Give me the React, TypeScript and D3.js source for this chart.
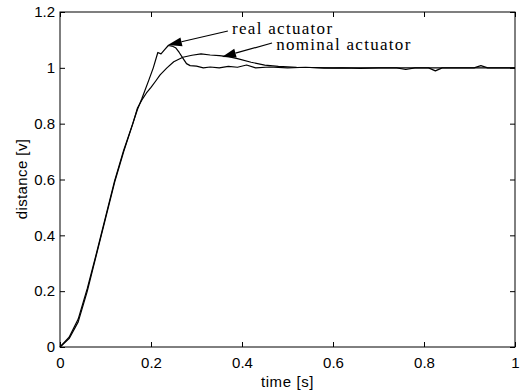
import React, { useRef, useEffect } from "react";
import * as d3 from "d3";

// step response: [time s, distance]
const realActuator: [number, number][] = [
  [0, 0], [0.02, 0.03], [0.04, 0.09], [0.06, 0.2], [0.08, 0.33],
  [0.1, 0.46], [0.12, 0.59], [0.14, 0.7], [0.16, 0.8], [0.17, 0.85],
  [0.18, 0.89], [0.195, 0.955], [0.205, 1.0], [0.215, 1.055], [0.222, 1.05],
  [0.23, 1.065], [0.238, 1.08], [0.246, 1.078], [0.254, 1.072], [0.262, 1.055],
  [0.27, 1.035], [0.278, 1.015], [0.286, 1.008], [0.3, 1.006], [0.315, 1.0],
  [0.33, 1.003], [0.35, 1.0], [0.37, 1.005], [0.39, 1.002], [0.41, 1.01],
  [0.43, 1.0], [0.46, 1.003], [0.5, 1.0], [0.54, 1.002], [0.58, 0.999],
  [0.62, 1.0], [0.66, 0.998], [0.7, 1.0], [0.74, 1.0], [0.76, 0.994],
  [0.78, 1.0], [0.81, 1.0], [0.825, 0.989], [0.84, 1.0], [0.88, 1.0],
  [0.91, 1.0], [0.925, 1.008], [0.94, 1.0], [0.97, 1.0], [1.0, 1.0],
];

const nominalActuator: [number, number][] = [
  [0, 0], [0.02, 0.035], [0.04, 0.1], [0.06, 0.21], [0.08, 0.335],
  [0.1, 0.465], [0.12, 0.595], [0.14, 0.705], [0.16, 0.8], [0.17, 0.855],
  [0.18, 0.885], [0.19, 0.91], [0.2, 0.93], [0.21, 0.952], [0.22, 0.975],
  [0.235, 1.0], [0.25, 1.022], [0.27, 1.038], [0.29, 1.045], [0.31, 1.05],
  [0.33, 1.046], [0.35, 1.044], [0.37, 1.04], [0.39, 1.033], [0.42, 1.02],
  [0.45, 1.01], [0.48, 1.005], [0.52, 1.002], [0.6, 1.0], [0.8, 1.0], [1.0, 1.0],
];

const xTicks = [0, 0.2, 0.4, 0.6, 0.8, 1];
const yTicks = [0, 0.2, 0.4, 0.6, 0.8, 1, 1.2];

// annotation: label, text anchor, arrow tail, arrow tip (all in data units)
const annotations = [
  { label: "real actuator", text: [0.378, 1.121], tail: [0.369, 1.132], tip: [0.237, 1.082] },
  { label: "nominal actuator", text: [0.475, 1.064], tail: [0.466, 1.089], tip: [0.356, 1.039] },
];

const App = () => {
  const svgRef = useRef<SVGSVGElement>(null);

  useEffect(() => {
    const width = 524;
    const height = 391;
    const margin = { top: 12, right: 9, bottom: 44, left: 60 };
    const w = width - margin.left - margin.right;
    const h = height - margin.top - margin.bottom;

    const svg = d3.select(svgRef.current);
    svg.selectAll("*").remove();

    const g = svg.append("g").attr("transform", `translate(${margin.left},${margin.top})`);

    const x = d3.scaleLinear().domain([0, 1]).range([0, w]);
    const y = d3.scaleLinear().domain([0, 1.2]).range([h, 0]);

    const fmt = (d: number) => (d === 0 || d === 1 ? String(d) : d.toFixed(1));
    const tickFont = "'Liberation Sans', Arial, sans-serif";

    // frame
    g.append("rect").attr("width", w).attr("height", h)
      .attr("fill", "none").attr("stroke", "#000").attr("stroke-width", 1);

    /*** axes, ticks pointing inward like matlab ***/
    const bottom = g.append("g").attr("transform", `translate(0,${h})`)
      .call(d3.axisBottom(x).tickValues(xTicks).tickSize(-5).tickPadding(10).tickFormat(fmt as any));
    const left = g.append("g")
      .call(d3.axisLeft(y).tickValues(yTicks).tickSize(-5).tickPadding(5).tickFormat(fmt as any));
    const top = g.append("g")
      .call(d3.axisTop(x).tickValues(xTicks).tickSize(-5).tickFormat(() => ""));
    const right = g.append("g").attr("transform", `translate(${w},0)`)
      .call(d3.axisRight(y).tickValues(yTicks).tickSize(-5).tickFormat(() => ""));

    [bottom, left, top, right].forEach((a) => {
      a.select(".domain").remove();
      a.selectAll("line").attr("stroke", "#000");
      a.selectAll("text")
        .attr("fill", "#000")
        .style("font-family", tickFont)
        .style("font-size", "15px");
    });

    g.append("text")
      .attr("x", w / 2)
      .attr("y", h + 40)
      .attr("text-anchor", "middle")
      .style("font-family", tickFont)
      .style("font-size", "15px")
      .style("letter-spacing", "0.6px")
      .text("time [s]");

    g.append("text")
      .attr("transform", `translate(${-33},${167}) rotate(-90)`)
      .attr("text-anchor", "middle")
      .style("font-family", tickFont)
      .style("font-size", "15px")
      .style("letter-spacing", "0.4px")
      .text("distance [v]");

    /*** curves ***/
    const line = d3.line<[number, number]>().x((d) => x(d[0])).y((d) => y(d[1]));

    [nominalActuator, realActuator].forEach((series) => {
      g.append("path")
        .datum(series)
        .attr("d", line)
        .attr("fill", "none")
        .attr("stroke", "#000")
        .attr("stroke-width", 1.2)
        .attr("stroke-linejoin", "round");
    });

    /*** arrows + labels ***/
    annotations.forEach((a) => {
      const tx = x(a.tail[0]), ty = y(a.tail[1]);
      const px = x(a.tip[0]), py = y(a.tip[1]);
      const len = Math.hypot(px - tx, py - ty);
      const ux = (px - tx) / len, uy = (py - ty) / len;
      const headLen = 14, headHalf = 4.5;
      const bx = px - ux * headLen, by = py - uy * headLen;

      g.append("line")
        .attr("x1", tx).attr("y1", ty).attr("x2", bx).attr("y2", by)
        .attr("stroke", "#000").attr("stroke-width", 1.2);

      g.append("polygon")
        .attr("points", [
          [px, py],
          [bx - uy * headHalf, by + ux * headHalf],
          [bx + uy * headHalf, by - ux * headHalf],
        ].map((p) => p.join(",")).join(" "))
        .attr("fill", "#000");

      g.append("text")
        .attr("x", x(a.text[0]))
        .attr("y", y(a.text[1]))
        .style("font-family", "'Liberation Serif', 'Times New Roman', serif")
        .style("font-size", "17px")
        .style("letter-spacing", "1.3px")
        .text(a.label);
    });
  }, []);

  return (
    <svg
      ref={svgRef}
      width={524}
      height={391}
      style={{ position: "absolute", left: 0, top: 0, background: "#fff" }}
    ></svg>
  );
};

export default App;
